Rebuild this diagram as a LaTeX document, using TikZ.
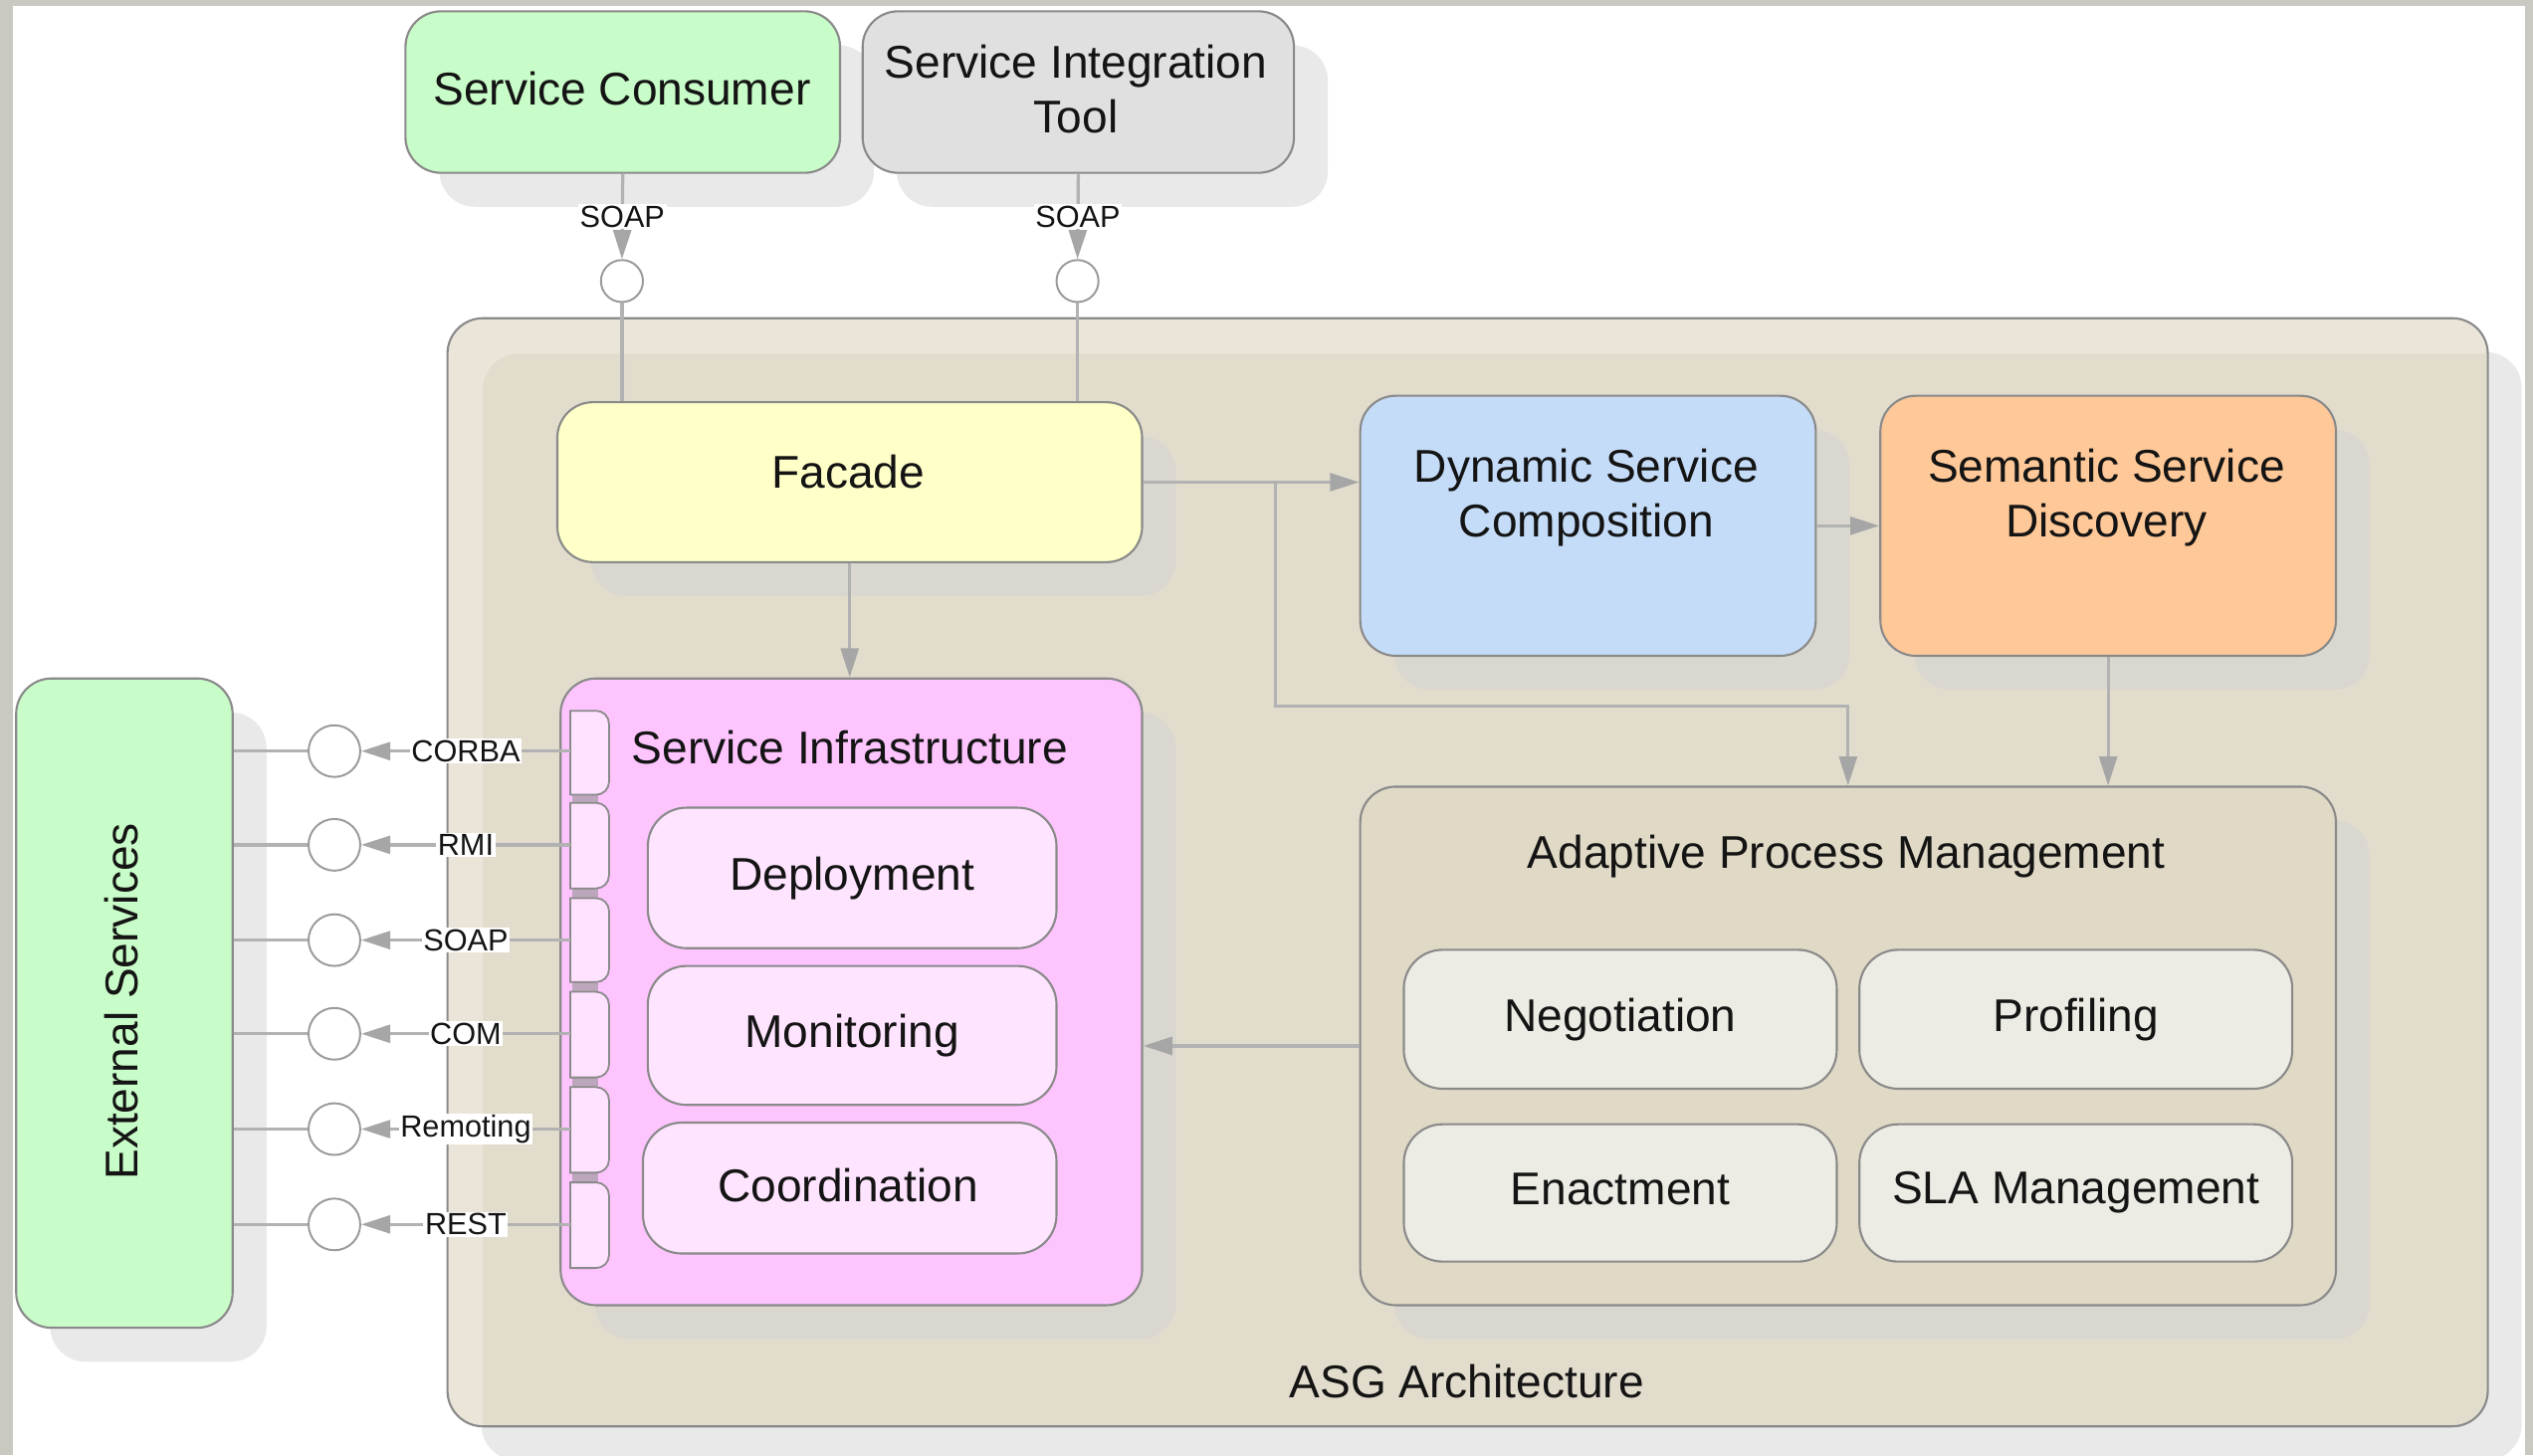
\documentclass[tikz,border=0pt]{standalone}
\usepackage{fontspec}
\setmainfont{Liberation Sans}
\usetikzlibrary{arrows.meta,shadows,calc}

% palette
\definecolor{stripe}{HTML}{C9C9C1}
\definecolor{edge}{HTML}{8A8A8A}
\definecolor{wire}{HTML}{B2B2B2}
\definecolor{tipc}{HTML}{A6A6A6}
\definecolor{ringc}{HTML}{9A9A9A}
\definecolor{shadowgray}{HTML}{D4D4D4}
\definecolor{consumer}{HTML}{C8FCC8}
\definecolor{toolgray}{HTML}{E0E0E0}
\definecolor{facadeY}{HTML}{FFFFC8}
\definecolor{compB}{HTML}{C4DCF8}
\definecolor{discO}{HTML}{FEC898}
\definecolor{infraP}{HTML}{FEC4FE}
\definecolor{infraIn}{HTML}{FFE4FF}
\definecolor{portP}{HTML}{FFE2FF}
\definecolor{portgap}{HTML}{BCA6BC}
\definecolor{apmC}{HTML}{DFD9C6}
\definecolor{apmIn}{HTML}{EDECE4}
\definecolor{asgOut}{HTML}{EBE5D9}
\definecolor{asgIn}{HTML}{E2DCCD}
\definecolor{ink}{HTML}{141414}

\newcommand{\mainsz}{\fontsize{28.4pt}{34pt}\selectfont}
\newcommand{\tagsz}{\fontsize{18.9pt}{22pt}\selectfont}

\tikzset{
  box/.style={draw=edge, line width=1.3pt, rounded corners=22pt, inner sep=0pt,
    font=\mainsz, text=ink, align=center},
  inbox/.style={box, rounded corners=24pt},
  castshadow/.style={drop shadow={shadow xshift=21pt, shadow yshift=-21pt,
    fill=shadowgray, opacity=0.5}},
  txt/.style={font=\mainsz, text=ink, align=center, inner sep=0pt},
  ifc/.style={circle, draw=ringc, fill=white, line width=1.2pt, inner sep=0pt},
  tag/.style={font=\tagsz, text=ink, fill=white, inner sep=1pt},
  wireline/.style={draw=wire, line width=2pt},
  flow/.style={wireline, -{Triangle[length=18pt, width=11pt, color=tipc]}},
  port/.style={draw=edge, line width=1.1pt, fill=portP},
}

\begin{document}
\begin{tikzpicture}[x=1pt, y=-1pt]
\useasboundingbox (0,0) rectangle (1568,901);

% page with its grey rim
\fill[white] (0,0) rectangle (1568,901);
\fill[stripe] (0,0) rectangle (8,901);
\fill[stripe] (0,0) rectangle (1568,4);
\fill[stripe] (1563,0) rectangle (1568,901);

% ASG container with its inner shading
\node[box, castshadow, fill=asgOut, minimum width=1263pt, minimum height=686pt,
  path picture={\fill[asgIn, rounded corners=22pt]
    ([shift={(22pt,-22pt)}]path picture bounding box.north west) rectangle
    ([shift={(22pt,-22pt)}]path picture bounding box.south east);}]
  (asg) at (908.5,540) {};
\node[txt] (asg-t) at (908,855) {ASG Architecture};

% clients on top
\node[box, castshadow, fill=consumer, minimum width=269pt, minimum height=100pt]
  (sc) at (385.5,57) {};
\node[txt] (sc-t) at (385,55) {Service Consumer};
\node[box, castshadow, fill=toolgray, minimum width=267pt, minimum height=100pt]
  (sit) at (667.5,57) {};
\node[txt] (sit-t) at (666,55) {Service Integration\\Tool};

\node[ifc, minimum size=26pt] (t1) at (385,174) {};
\node[ifc, minimum size=26pt] (t2) at (667,174) {};

% facade and the two engines
\node[box, castshadow, fill=facadeY, minimum width=362pt, minimum height=99pt]
  (facade) at (526,298.5) {};
\node[txt] (facade-t) at (525,292) {Facade};

\node[box, castshadow, fill=compB, minimum width=282pt, minimum height=161pt]
  (dsc) at (983,325.5) {};
\node[txt] (dsc-t) at (982,308) {Dynamic Service\\Composition};

\node[box, castshadow, fill=discO, minimum width=282pt, minimum height=161pt]
  (ssd) at (1305,325.5) {};
\node[txt] (ssd-t) at (1304,308) {Semantic Service\\Discovery};

% service infrastructure
\node[box, castshadow, fill=infraP, minimum width=360pt, minimum height=388pt]
  (si) at (527,614) {};
\node[txt] (si-t) at (526,463) {Service Infrastructure};

\foreach \t/\b in {492/497,550/556,608/614,667/673,726/732}
  \fill[portgap] (354,\b) rectangle (370,\t);
\foreach \t/\b/\m [count=\i] in {440/492/465,497/550/523,556/608/582,
                                 614/667/640,673/726/699,732/785/758} {
  \path[port] (353,\b) -- (353,\t) [rounded corners=8pt] -- (377,\t)
    -- (377,\b) [sharp corners] -- cycle;
  \coordinate (p\i) at (353,\m);
}

\node[inbox, fill=infraIn, minimum width=253pt, minimum height=87pt]
  (dep) at (527.5,543.5) {Deployment};
\node[inbox, fill=infraIn, minimum width=253pt, minimum height=86pt]
  (mon) at (527.5,641) {Monitoring};
\node[inbox, fill=infraIn, minimum width=256pt, minimum height=81pt]
  (coord) at (526,735.5) {};
\node[txt] (coord-t) at (525,734) {Coordination};

% adaptive process management
\node[box, castshadow, fill=apmC, minimum width=604pt, minimum height=321pt]
  (apm) at (1144,647.5) {};
\node[txt] (apm-t) at (1143,530) {Adaptive Process Management};

\node[inbox, fill=apmIn, minimum width=268pt, minimum height=86pt]
  (neg) at (1003,631) {Negotiation};
\node[inbox, fill=apmIn, minimum width=268pt, minimum height=86pt]
  (prof) at (1285,631) {Profiling};
\node[inbox, fill=apmIn, minimum width=268pt, minimum height=85pt]
  (enact) at (1003,738.5) {};
\node[txt] (enact-t) at (1003,736) {Enactment};
\node[inbox, fill=apmIn, minimum width=268pt, minimum height=85pt]
  (sla) at (1285,738.5) {SLA Management};

% external services
\node[box, castshadow, fill=consumer, minimum width=134pt, minimum height=402pt]
  (es) at (77,621) {};
\node[txt, rotate=90] (es-t) at (75,620) {External Services};

\foreach \m [count=\i] in {465,523,582,640,699,758}
  \node[ifc, minimum size=32pt] (c\i) at (207,\m) {};

% connectors
\draw[flow] (sc.south) -- node[tag] {SOAP} (t1.north);
\draw[flow] (sit.south) -- node[tag] {SOAP} (t2.north);
\draw[wireline] (t1.south) -- (t1.south |- facade.north);
\draw[wireline] (t2.south) -- (t2.south |- facade.north);

\coordinate (fork) at ([xshift=82pt]facade.east);
\draw[flow] (facade.east) -- (facade.east -| dsc.west);
\draw[flow] (fork) |- ($(apm.north)+(0,-49)$) -- (apm.north);
\draw[flow] (dsc.east) -- (dsc.east -| ssd.west);
\draw[flow] (ssd.south) -- (ssd.south |- apm.north);
\draw[flow] (facade.south) -- (facade.south |- si.north);
\draw[flow] (apm.west) -- (apm.west -| si.east);

\foreach \lab [count=\i] in {CORBA,RMI,SOAP,COM,Remoting,REST} {
  \draw[wireline] (c\i.west) -- (c\i.west -| es.east);
  \draw[flow] (p\i) -- node[tag] {\lab} (c\i.east);
}
\end{tikzpicture}
\end{document}
